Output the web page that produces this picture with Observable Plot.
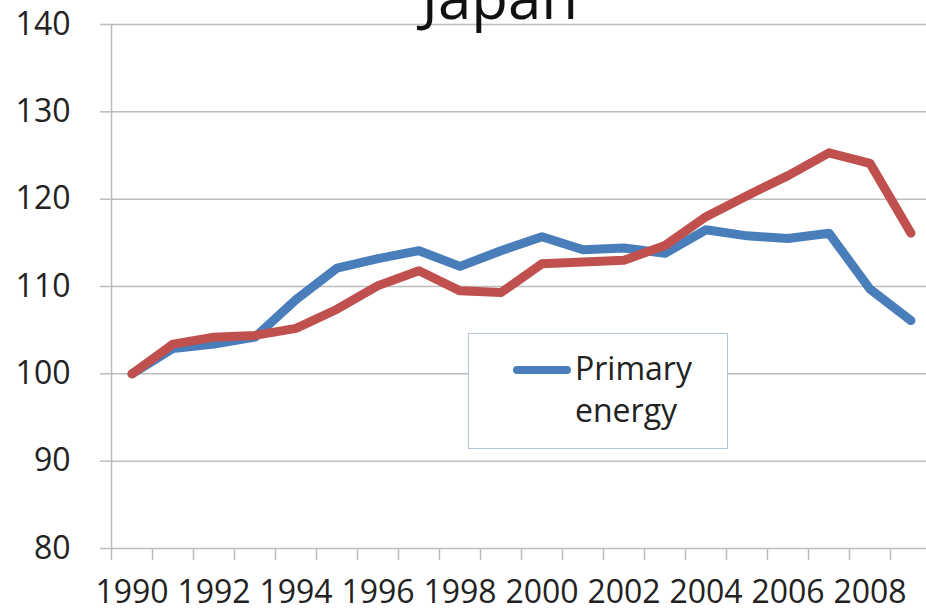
<!DOCTYPE html>
<html>
<head>
<meta charset="utf-8">
<script src="https://cdn.jsdelivr.net/npm/d3@7"></script>
<script src="https://cdn.jsdelivr.net/npm/@observablehq/plot@0.6"></script>
<style>
  html, body { margin: 0; padding: 0; background: white; overflow: hidden; }
  #wrap { position: relative; width: 926px; height: 612px; }
  #legend {
    position: absolute; left: 468px; top: 333px; width: 258px; height: 114px;
    border: 1.5px solid #b3c3dc; background: white; box-sizing: content-box;
  }
  #legend .swatch {
    position: absolute; left: 44px; top: 32px; width: 58px; height: 8px;
    background: #4a7ebb; border-radius: 4px;
  }
  #legend .label {
    position: absolute; left: 106px; top: 13px;
    font-family: "Open Sans", sans-serif; font-size: 32px; line-height: 42px; color: #222;
  }
</style>
</head>
<body>
<div id="wrap"></div>
<script>
const years = [1990, 1991, 1992, 1993, 1994, 1995, 1996, 1997, 1998, 1999,
               2000, 2001, 2002, 2003, 2004, 2005, 2006, 2007, 2008, 2009];
const primaryEnergy = [100, 102.9, 103.4, 104.2, 108.5, 112.1, 113.2, 114.1, 112.3, 114.1,
                       115.7, 114.2, 114.4, 113.8, 116.5, 115.8, 115.5, 116.1, 109.7, 106.1];
const otherSeries = [100, 103.4, 104.2, 104.4, 105.2, 107.4, 110.1, 111.8, 109.5, 109.3,
                     112.6, 112.8, 113.0, 114.7, 118.0, 120.4, 122.7, 125.3, 124.1, 116.1];
const yTicks = [80, 90, 100, 110, 120, 130, 140];
const xLabels = [1990, 1992, 1994, 1996, 1998, 2000, 2002, 2004, 2006, 2008];
const title = "Japan";
const legendLabel = ["Primary", "energy"];

const blueData = years.map((yr, i) => ({year: yr, value: primaryEnergy[i]}));
const redData = years.map((yr, i) => ({year: yr, value: otherSeries[i]}));
const boundaries = years.map(y => y - 0.5);

const gridColor = "#bdbdbd";

const chart = Plot.plot({
  width: 926,
  height: 612,
  marginTop: 24,
  marginBottom: 64,
  marginLeft: 111,
  marginRight: 0,
  x: {domain: [1989.5, 2009.5], range: [111, 931]},
  y: {domain: [80, 140]},
  style: {fontFamily: "Open Sans, sans-serif", fontSize: "32px", color: "#222", background: "white", overflow: "hidden"},
  marks: [
    Plot.ruleY(yTicks, {stroke: gridColor, strokeWidth: 1.5}),
    Plot.axisY({ticks: yTicks, tickSize: 11, tickPadding: 30, stroke: gridColor, strokeWidth: 1.5,
                strokeOpacity: 1, fontSize: 32, fill: "#222", label: null}),
    Plot.axisX({ticks: boundaries, tickSize: 12, tickFormat: () => "", stroke: gridColor,
                strokeWidth: 1.5, strokeOpacity: 1, label: null}),
    Plot.frame({anchor: "left", stroke: gridColor, strokeWidth: 1.5}),
    Plot.axisX({ticks: xLabels, tickSize: 0, tickPadding: 32, tickFormat: d => String(d),
                fontSize: 32, fill: "#222", label: null}),
    Plot.line(blueData, {x: "year", y: "value", stroke: "#4a7ebb", strokeWidth: 9,
                         strokeLinecap: "round", strokeLinejoin: "round"}),
    Plot.line(redData, {x: "year", y: "value", stroke: "#c0504d", strokeWidth: 9,
                        strokeLinecap: "round", strokeLinejoin: "round"}),
    Plot.text([title], {frameAnchor: "top", lineAnchor: "middle", dy: -25, dx: -19,
                        fontSize: 60, fill: "#111"})
  ]
});

const wrap = document.getElementById("wrap");
wrap.appendChild(chart);
const legend = document.createElement("div");
legend.id = "legend";
legend.innerHTML = `<div class="swatch"></div><div class="label">${legendLabel.join("<br>")}</div>`;
wrap.appendChild(legend);
</script>
</body>
</html>
